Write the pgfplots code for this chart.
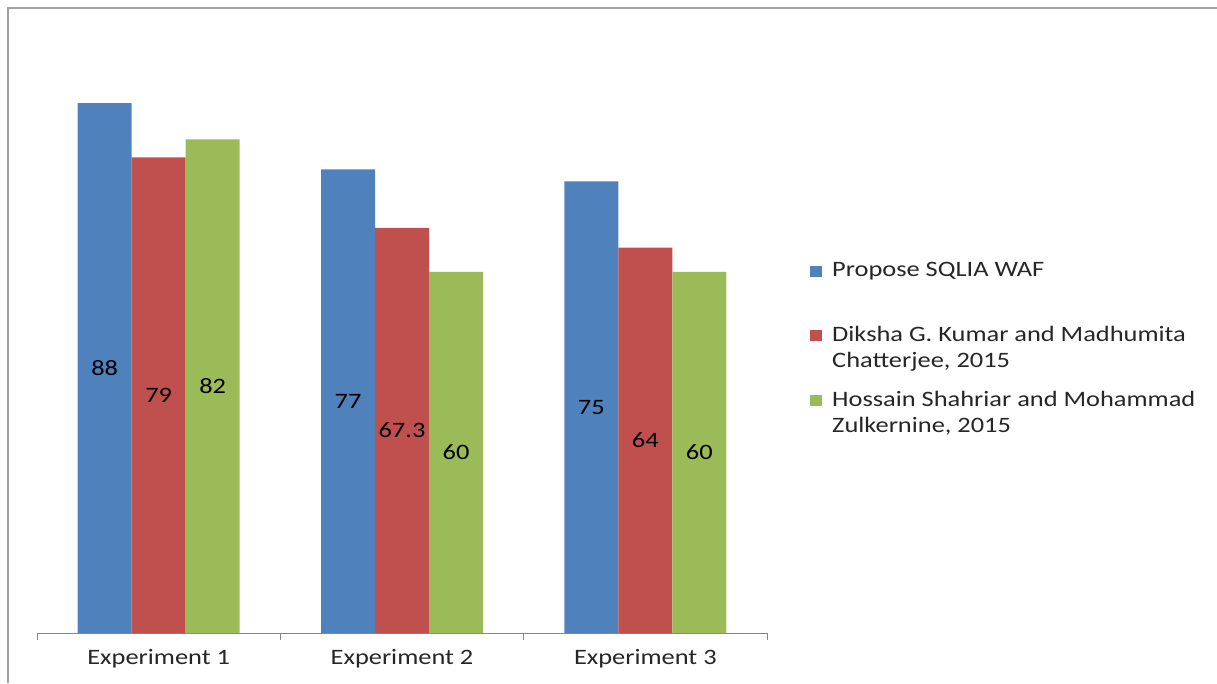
\documentclass[border=0pt]{standalone}
\usepackage{pgfplots}
\pgfplotsset{compat=1.18}
\usepackage{pgfplotstable}
\usepackage{fontspec}
\setmainfont[FakeStretch=1.2]{Carlito}
\definecolor{cblue}{HTML}{4F81BD}
\definecolor{cred}{HTML}{C0504D}
\definecolor{cgreen}{HTML}{9BBB59}
\definecolor{axgray}{HTML}{868686}
\definecolor{bordergray}{HTML}{A0A0A0}
\pgfplotstableread{
x y
0 88
1 77
2 75
}\tblblue
\pgfplotstableread{
x y
0 79
1 67.3
2 64
}\tblred
\pgfplotstableread{
x y
0 82
1 60
2 60
}\tblgreen
\begin{document}
\begin{tikzpicture}[x=1pt,y=1pt,font=\fontsize{22}{26}\selectfont]
\path[use as bounding box] (0,0) rectangle (1217,683);
\draw[bordergray,line width=2pt] (8,0) -- (8,675) -- (1217,675);
\begin{axis}[
  at={(37pt,50pt)}, anchor=south west,
  scale only axis, width=730pt, height=602pt,
  xmin=-0.5, xmax=2.5, ymin=0, ymax=100,
  axis x line*=bottom, axis y line=none,
  x axis line style={axgray, line width=1pt},
  ybar=0pt, bar width=54pt,
  xtick={0,1,2},
  xticklabels={Experiment 1,Experiment 2,Experiment 3},
  major tick length=0pt,
  xticklabel style={anchor=base, yshift=-31pt, text=black!85},
  extra x ticks={-0.5,0.5,1.5,2.5},
  extra x tick labels={},
  extra x tick style={major tick length=7pt, tick align=outside, tick style={axgray, line width=1pt}},
  nodes near coords,
  point meta=explicit symbolic,
  visualization depends on={\thisrow{y} \as \rawy},
  every node near coord/.append style={anchor=center, text=black, font=\fontsize{22}{26}\selectfont, shift={(axis direction cs:0,-\rawy/2)}},
  legend style={draw=none, fill=none, at={(axis description cs:1.0589,0.616)}, anchor=north west,
    inner sep=0pt, row sep=45pt, column sep=10pt,
    nodes={inner sep=0pt, anchor=base west, text=black!85},
    font=\fontsize{22}{26}\selectfont},
  legend cell align=left,
  legend image code/.code={\fill[#1] (0pt,0pt) rectangle (12pt,11pt);},
]
\addplot[fill=cblue, draw=none] table[x=x,y=y,meta=y] {\tblblue};
\addlegendentry{Propose SQLIA WAF}
\addplot[fill=cred, draw=none] table[x=x,y=y,meta=y] {\tblred};
\addlegendentry{\begin{tabular}[t]{@{}l@{}}Diksha G. Kumar and Madhumita\\Chatterjee, 2015\end{tabular}}
\addplot[fill=cgreen, draw=none] table[x=x,y=y,meta=y] {\tblgreen};
\addlegendentry{\begin{tabular}[t]{@{}l@{}}Hossain Shahriar and Mohammad\\Zulkernine, 2015\end{tabular}}
\end{axis}
\end{tikzpicture}
\end{document}
